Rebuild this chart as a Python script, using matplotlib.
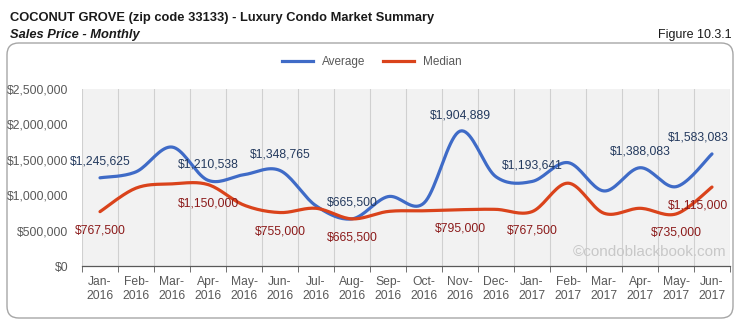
import matplotlib

matplotlib.use("Agg")
import matplotlib.pyplot as plt
import numpy as np
from matplotlib.patches import FancyBboxPatch
from matplotlib.lines import Line2D

plt.rcParams["font.family"] = ["Liberation Sans", "DejaVu Sans"]

months = ["Jan-\n2016", "Feb-\n2016", "Mar-\n2016", "Apr-\n2016", "May-\n2016", "Jun-\n2016",
          "Jul-\n2016", "Aug-\n2016", "Sep-\n2016", "Oct-\n2016", "Nov-\n2016", "Dec-\n2016",
          "Jan-\n2017", "Feb-\n2017", "Mar-\n2017", "Apr-\n2017", "May-\n2017", "Jun-\n2017"]
average = [1245625, 1330000, 1680000, 1210538, 1290000, 1348765, 850000, 665500, 980000,
           890000, 1904889, 1260000, 1193641, 1460000, 1060000, 1388083, 1120000, 1583083]
median = [767500, 1100000, 1160000, 1150000, 860000, 755000, 815000, 665500, 770000,
          780000, 795000, 800000, 767500, 1170000, 745000, 815000, 735000, 1115000]
avg_labeled = [0, 3, 5, 7, 10, 12, 15, 17]
med_labeled = [0, 3, 5, 7, 10, 12, 16, 17]
yticks = [0, 500000, 1000000, 1500000, 2000000, 2500000]

BLUE = "#3F6BC7"
RED = "#DA431B"
BLUE_TXT = "#243A5E"
RED_TXT = "#8B1A1A"
GRAY_TXT = "#595959"


def smooth(y, steps=20):
    # Excel-style smoothed line: cubic Bezier segments with Catmull-Rom tangents
    x = np.arange(len(y), dtype=float)
    y = np.asarray(y, dtype=float)
    px = np.concatenate([[x[0]], x, [x[-1]]])
    py = np.concatenate([[y[0]], y, [y[-1]]])
    t = np.linspace(0, 1, steps)[:, None]
    xs, ys = [], []
    for i in range(len(y) - 1):
        p0 = np.array([px[i + 1], py[i + 1]])
        p3 = np.array([px[i + 2], py[i + 2]])
        c1 = p0 + (p3 - np.array([px[i], py[i]])) / 6
        c2 = p3 - (np.array([px[i + 3], py[i + 3]]) - p0) / 6
        pts = ((1 - t) ** 3) * p0 + 3 * ((1 - t) ** 2) * t * c1 + 3 * (1 - t) * t ** 2 * c2 + t ** 3 * p3
        xs.append(pts[:, 0])
        ys.append(pts[:, 1])
    return np.concatenate(xs), np.concatenate(ys)


fig = plt.figure(figsize=(7.38, 3.25), dpi=100)
fig.patch.set_facecolor("white")

frame = FancyBboxPatch((7 / 738, 7 / 325), 726 / 738, 275 / 325,
                       boxstyle="round,pad=0,rounding_size=0.016", transform=fig.transFigure,
                       facecolor="none", edgecolor="#A6A6A6", linewidth=1.0,
                       mutation_aspect=738 / 325, zorder=-1)
fig.patches.append(frame)

fig.text(10 / 738, 1 - 18 / 325, "COCONUT GROVE (zip code 33133) - Luxury Condo Market Summary",
         fontsize=9.3, fontweight="bold", va="center", ha="left", color="#1a1a1a")
fig.text(10 / 738, 1 - 35 / 325, "Sales Price - Monthly", fontsize=9.3, fontweight="bold",
         fontstyle="italic", va="center", ha="left", color="#1a1a1a")
fig.text(732 / 738, 1 - 35 / 325, "Figure 10.3.1", fontsize=9, va="center", ha="right",
         color="#1a1a1a")

ax = fig.add_axes([82 / 738, 1 - 266 / 325, 648 / 738, 177 / 325])
ax.set_facecolor("#F2F2F2")
n = len(months)
ax.set_xlim(-0.5, n - 0.5)
ax.set_ylim(0, 2500000)

for b in np.arange(-0.5, n, 1.0):
    ax.axvline(b, color="#D0D0D0", linewidth=0.8, zorder=1)

sx, sy = smooth(average)
ax.plot(sx, sy, color=BLUE, linewidth=2.3, zorder=3, solid_capstyle="round")
sx, sy = smooth(median)
ax.plot(sx, sy, color=RED, linewidth=2.3, zorder=3, solid_capstyle="round")

for i in avg_labeled:
    dx = -10 if i == n - 1 else 0
    ax.annotate(f"${average[i]:,}", (i, average[i]), xytext=(dx, 11.5), textcoords="offset points",
                ha="center", va="center", fontsize=8.7, color=BLUE_TXT, zorder=4)
for i in med_labeled:
    dx = -10 if i == n - 1 else 0
    ax.annotate(f"${median[i]:,}", (i, median[i]), xytext=(dx, -13.5), textcoords="offset points",
                ha="center", va="center", fontsize=8.7, color=RED_TXT, zorder=4)

ax.text(0.995, 0.04, "©condoblackbook.com", transform=ax.transAxes, ha="right", va="bottom",
        fontsize=11, color="#C8C8C8", zorder=2)

ax.set_yticks(yticks)
ax.set_yticklabels([f"${v:,}" for v in yticks])
ax.set_xticks(range(n))
ax.set_xticklabels(months)
ax.set_xticks(np.arange(-0.5, n, 1.0), minor=True)
ax.tick_params(axis="x", which="major", length=0, pad=7, labelsize=8.7, labelcolor=GRAY_TXT)
ax.tick_params(axis="x", which="minor", length=4, direction="out", color="#595959")
ax.tick_params(axis="y", length=0, pad=10, labelsize=8.7, labelcolor=GRAY_TXT)
for side in ["top", "right", "left"]:
    ax.spines[side].set_visible(False)
ax.spines["bottom"].set_color("#595959")
ax.spines["bottom"].set_linewidth(0.9)

handles = [Line2D([], [], color=BLUE, linewidth=2.3), Line2D([], [], color=RED, linewidth=2.3)]
fig.legend(handles, ["Average", "Median"], loc="center", bbox_to_anchor=(372 / 738, 1 - 62 / 325),
           ncol=2, frameon=False, fontsize=8.5, handlelength=2.6, columnspacing=1.5,
           labelcolor=GRAY_TXT)

fig.savefig("out.png", dpi=100)
